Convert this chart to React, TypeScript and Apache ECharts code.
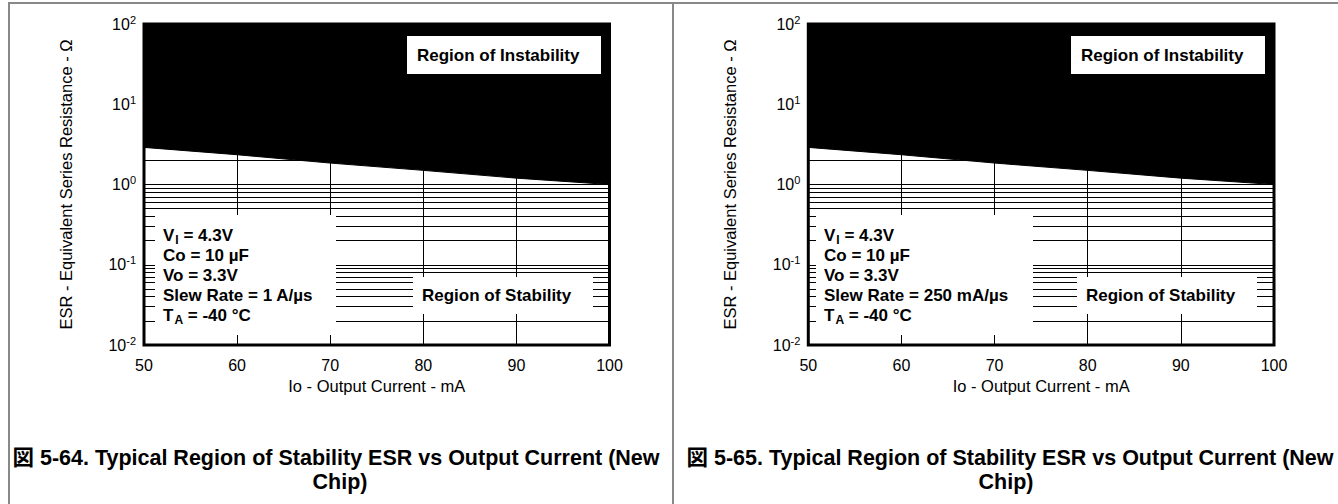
import React, { useEffect, useRef } from "react";
import * as echarts from "echarts";

// ---- data ----
const currentTicksMin = 50;
const currentTicksMax = 100;
const currentTickStep = 10;
const esrMin = 0.01;
const esrMax = 100;

const currentsLeft = [50, 60, 70, 80, 90, 100];
const esrBoundaryLeft = [2.9, 2.35, 1.85, 1.5, 1.2, 1.0];
const currentsRight = [50, 60, 70, 80, 90, 100];
const esrBoundaryRight = [2.9, 2.35, 1.85, 1.5, 1.2, 1.0];

const esrGridValues = [
  0.02, 0.03, 0.04, 0.05, 0.06, 0.07, 0.08, 0.09,
  0.1, 0.2, 0.3, 0.4, 0.5, 0.6, 0.7, 0.8, 0.9,
  1, 2, 3, 4, 5, 6, 7, 8, 9,
  10, 20, 30, 40, 50, 60, 70, 80, 90,
];

const xAxisName = "Io - Output Current - mA";
const yAxisName = "ESR - Equivalent Series Resistance - Ω";
const instabilityLabel = "Region of Instability";
const stabilityLabel = "Region of Stability";

const conditionsLeft = [
  "{b|V}{sub|I}{b| = 4.3V}",
  "{b|Co = 10 µF}",
  "{b|Vo = 3.3V}",
  "{b|Slew Rate = 1 A/µs}",
  "{b|T}{sub|A}{b| = -40 °C}",
];
const conditionsRight = [
  "{b|V}{sub|I}{b| = 4.3V}",
  "{b|Co = 10 µF}",
  "{b|Vo = 3.3V}",
  "{b|Slew Rate = 250 mA/µs}",
  "{b|T}{sub|A}{b| = -40 °C}",
];
const captionLeft = ["図 5-64. Typical Region of Stability ESR vs Output Current (New", "Chip)"];
const captionRight = ["図 5-65. Typical Region of Stability ESR vs Output Current (New", "Chip)"];

// ---- layout / style ----
const FONT = "'Liberation Sans', Arial, 'Noto Sans CJK JP', sans-serif";

const panels = [
  {
    gridLeft: 144,
    gridWidth: 465.5,
    currents: currentsLeft,
    esr: esrBoundaryLeft,
    conditions: conditionsLeft,
    caption: captionLeft,
    instBox: [407, 36, 194, 38],
    stabBox: [413, 277, 180, 37],
    condBox: [155, 215, 181, 120],
    captionX: [336, 340],
  },
  {
    gridLeft: 808.3,
    gridWidth: 465.7,
    currents: currentsRight,
    esr: esrBoundaryRight,
    conditions: conditionsRight,
    caption: captionRight,
    instBox: [1071, 36, 194, 38],
    stabBox: [1077, 277, 180, 37],
    condBox: [816, 215, 217, 120],
    captionX: [1010, 1006],
  },
];

const GRID_TOP = 24;
const GRID_HEIGHT = 321;

export default function App() {
  const ref = useRef<HTMLDivElement>(null);

  useEffect(() => {
    if (!ref.current) return;
    const chart = echarts.init(ref.current, null, { renderer: "svg" });

    const graphics: any[] = [
      { type: "line", shape: { x1: 8, y1: 3, x2: 1338, y2: 3 }, style: { stroke: "#888", lineWidth: 2 } },
      { type: "line", shape: { x1: 9, y1: 3, x2: 9, y2: 504 }, style: { stroke: "#888", lineWidth: 2 } },
      { type: "line", shape: { x1: 673, y1: 3, x2: 673, y2: 504 }, style: { stroke: "#888", lineWidth: 2 } },
    ];

    panels.forEach((p) => {
      const [ix, iy, iw, ih] = p.instBox;
      graphics.push({ type: "rect", shape: { x: ix, y: iy, width: iw, height: ih }, style: { fill: "#fff" }, z: 10 });
      graphics.push({
        type: "text", x: ix + 10, y: iy + ih / 2, z: 11,
        style: { text: instabilityLabel, font: `bold 17px ${FONT}`, fill: "#000", verticalAlign: "middle", align: "left" },
      });
      const [sx, sy, sw, sh] = p.stabBox;
      graphics.push({ type: "rect", shape: { x: sx, y: sy, width: sw, height: sh }, style: { fill: "#fff" }, z: 10 });
      graphics.push({
        type: "text", x: sx + 9, y: 295, z: 11,
        style: { text: stabilityLabel, font: `bold 17px ${FONT}`, fill: "#000", verticalAlign: "middle", align: "left" },
      });
      const [cx, cy, cw, ch] = p.condBox;
      graphics.push({ type: "rect", shape: { x: cx, y: cy, width: cw, height: ch }, style: { fill: "#fff" }, z: 10 });
      p.conditions.forEach((line, k) => {
        graphics.push({
          type: "text", x: cx + 8, y: 235 + k * 20, z: 11,
          style: {
            text: line,
            verticalAlign: "middle",
            align: "left",
            rich: {
              b: { fontFamily: FONT, fontWeight: "bold", fontSize: 17, color: "#000" },
              sub: { fontFamily: FONT, fontWeight: "bold", fontSize: 12, color: "#000", padding: [10, 0, 0, 1] },
            },
          },
        });
      });
      p.caption.forEach((line, k) => {
        graphics.push({
          type: "text", x: p.captionX[k], y: 458 + k * 24, z: 11,
          style: { text: line, font: `bold 21.5px ${FONT}`, fill: "#000", verticalAlign: "middle", align: "center" },
        });
      });
    });

    const option: any = {
      animation: false,
      backgroundColor: "#fff",
      grid: panels.map((p) => ({
        left: p.gridLeft,
        top: GRID_TOP,
        width: p.gridWidth,
        height: GRID_HEIGHT,
        show: true,
        borderColor: "#000",
        borderWidth: 3,
        backgroundColor: "transparent",
      })),
      xAxis: panels.map((_, i) => ({
        type: "value",
        gridIndex: i,
        min: currentTicksMin,
        max: currentTicksMax,
        interval: currentTickStep,
        name: xAxisName,
        nameLocation: "middle",
        nameGap: 31,
        nameTextStyle: { fontSize: 16.5, color: "#000", fontFamily: FONT },
        axisLine: { show: false },
        axisTick: { show: false },
        axisLabel: { fontSize: 16, color: "#000", margin: 12, fontFamily: FONT },
        splitLine: { show: true, lineStyle: { color: "#000", width: 1 } },
      })),
      yAxis: panels.map((_, i) => ({
        type: "log",
        logBase: 10,
        gridIndex: i,
        min: esrMin,
        max: esrMax,
        name: yAxisName,
        nameLocation: "middle",
        nameGap: 70,
        nameTextStyle: { fontSize: 16.5, color: "#000", fontFamily: FONT },
        axisLine: { show: false },
        axisTick: { show: false },
        splitLine: { show: false },
        axisLabel: {
          fontSize: 16,
          color: "#000",
          fontFamily: FONT,
          margin: 8,
          formatter: (v: number) => `{base|10}{sup|${Math.round(Math.log10(v))}}`,
          rich: {
            base: { fontSize: 16, color: "#000", fontFamily: FONT },
            sup: { fontSize: 11, color: "#000", fontFamily: FONT, padding: [0, 0, 9, 0] },
          },
        },
      })),
      series: panels.flatMap((p, i) => [
        {
          type: "line",
          xAxisIndex: i,
          yAxisIndex: i,
          data: [],
          z: 1,
          silent: true,
          markLine: {
            silent: true,
            symbol: "none",
            label: { show: false },
            lineStyle: { color: "#000", width: 1, type: "solid" },
            data: esrGridValues.map((v) => ({ yAxis: v })),
          },
        },
        {
          type: "line",
          xAxisIndex: i,
          yAxisIndex: i,
          data: p.currents.map((c, j) => [c, p.esr[j]]),
          symbol: "none",
          z: 3,
          silent: true,
          lineStyle: { color: "#000", width: 1 },
          areaStyle: { color: "#000", opacity: 1, origin: "end" },
        },
      ]),
      graphic: graphics,
    };

    chart.setOption(option);
    return () => chart.dispose();
  }, []);

  return (
    <div
      ref={ref}
      style={{ position: "absolute", left: 0, top: 0, width: 1338, height: 504, background: "#fff" }}
    />
  );
}
